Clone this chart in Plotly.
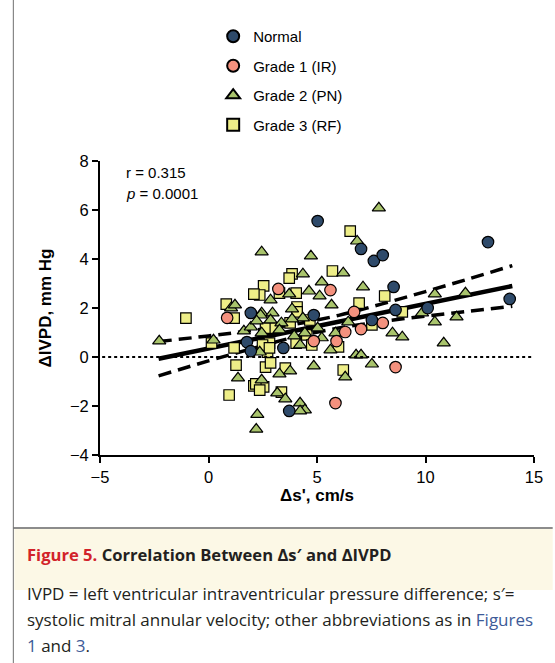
import plotly.graph_objects as go

# ---------------- data ----------------
normal_x = [5.03, 7.03, 7.62, 8.03, 8.53, 12.88, 13.88, 4.85, 3.45, 3.72, 7.53, 8.62, 10.1, 1.95, 1.77, 1.95]
normal_y = [5.55, 4.41, 3.92, 4.16, 2.86, 4.69, 2.37, 1.71, 0.37, -2.2, 1.51, 1.92, 2.0, 1.8, 0.61, 0.24]

g1_x = [3.22, 5.62, 0.86, 6.71, 4.85, 5.9, 6.3, 7.03, 8.03, 8.62, 5.85]
g1_y = [2.78, 2.73, 1.6, 1.84, 0.65, 0.65, 1.02, 1.14, 1.39, -0.41, -1.88]

g2_x = [7.85, 6.85, 2.45, 4.72, 4.35, 6.21, 5.22, 4.63, 3.72, 5.12, 7.12, 2.86, 5.67, 10.43,
        11.84, 11.43, 10.43, 2.45, 2.95, 3.85, 4.35, 3.85, 2.86, 3.36, 2.45, 3.27, 3.95, 4.44,
        5.03, 5.22, 4.22, 5.85, 6.44, 8.48, 8.93, 9.84, 10.84, 5.62, 6.8, 7.03, 7.53, 4.85,
        6.3, 3.27, 3.76, 2.45, 3.17, 3.54, 4.22, 4.44, 4.22, 2.25, 2.2, -2.27, 0.23, 1.04,
        1.22, 1.63, 1.95, 2.4, 2.22, 2.36, 1.36]
g2_y = [6.08, 4.73, 4.29, 4.12, 3.39, 3.43, 3.06, 2.69, 2.57, 2.49, 2.86, 2.33, 2.12, 2.57,
        2.61, 1.63, 1.43, 1.8, 1.8, 1.96, 1.59, 1.55, 1.51, 1.39, 0.98, 1.1, 0.86, 0.98,
        1.18, 0.78, 0.49, 0.98, 1.43, 0.98, 0.82, 1.8, 0.57, 0.29, 0.08, 0.08, -0.29, -0.37,
        -0.82, -0.69, -0.57, -0.94, -1.47, -1.71, -1.88, -2.16, -2.2, -2.35, -2.95, 0.65, 0.69, 2.0,
        2.12, 1.06, 1.22, 1.71, 1.47, 0.2, -0.86]

g3_x = [6.53, 5.71, 3.85, 3.72, 2.54, 3.27, 4.04, 8.12, 6.94, 4.08, 2.36, -1.04, 0.82, 1.18,
        2.09, 0.14, 1.18, 1.27, 0.95, 2.09, 2.54, 2.63, 2.63, 2.72, 2.86, 3.54, 3.36, 4.53,
        4.76, 4.04, 3.08, 8.93, 7.53, 6.21, 5.99, 4.67, 4.08, 3.76, 2.81, 2.49, 2.81, 2.18, 2.36]
g3_y = [5.14, 3.51, 3.39, 3.22, 2.9, 2.61, 2.61, 2.49, 2.2, 2.04, 2.53, 1.59, 2.16, 1.59,
        2.57, 0.57, 0.37, -0.33, -1.55, -1.18, -1.22, 1.18, -0.41, 0.2, -0.24, -0.45, -1.43, 0.9,
        0.49, 0.57, 1.18, 1.84, 1.31, -0.53, 0.41, 1.51, 1.84, 1.39, 0.57, 0.49, 0.37, -1.1, -1.35]

# regression line and 95% confidence band, read at these x positions
fit_x = [-2.3, 0, 2, 4, 6, 8, 10, 12, 14]
fit_y = [-0.07, 0.35, 0.71, 1.08, 1.44, 1.81, 2.17, 2.53, 2.90]
ci_upper = [0.63, 0.86, 1.08, 1.34, 1.70, 2.17, 2.67, 3.19, 3.73]
ci_lower = [-0.77, -0.16, 0.34, 0.82, 1.18, 1.45, 1.67, 1.87, 2.07]

x_ticks = [-5, 0, 5, 10, 15]
y_ticks = [-4, -2, 0, 2, 4, 6, 8]

# ---------------- figure ----------------
W, H = 555, 663
L, R, T, B = 100, 541, 161, 455
FONT = "Liberation Sans, Arial, sans-serif"


def px(xp):
    return (xp - L) / (R - L)


def py(yp):
    return (B - yp) / (B - T)


fig = go.Figure()

fig.add_trace(go.Scatter(x=fit_x, y=ci_upper, mode="lines", line=dict(color="black", width=3.5, dash="13px,7px", shape="spline"),
                         showlegend=False, hoverinfo="skip"))
fig.add_trace(go.Scatter(x=fit_x, y=ci_lower, mode="lines", line=dict(color="black", width=3.5, dash="13px,7px", shape="spline"),
                         showlegend=False, hoverinfo="skip"))
fig.add_trace(go.Scatter(x=fit_x, y=fit_y, mode="lines", line=dict(color="black", width=4.5),
                         showlegend=False, hoverinfo="skip"))

line_m = dict(color="black", width=1.2)
fig.add_trace(go.Scatter(x=g3_x, y=g3_y, mode="markers", name="Grade 3 (RF)", legendgroup="d", legendrank=4,
                         marker=dict(symbol="square", size=10.5, color="#eeee88", line=line_m)))
fig.add_trace(go.Scatter(x=g2_x, y=g2_y, mode="markers", name="Grade 2 (PN)", legendgroup="c", legendrank=3,
                         marker=dict(symbol="triangle-up", size=11.5, color="#a9c46c", line=line_m)))
fig.add_trace(go.Scatter(x=g1_x, y=g1_y, mode="markers", name="Grade 1 (IR)", legendgroup="b", legendrank=2,
                         marker=dict(symbol="circle", size=11.5, color="#f4917e", line=line_m)))
fig.add_trace(go.Scatter(x=normal_x, y=normal_y, mode="markers", name="Normal", legendgroup="a", legendrank=1,
                         marker=dict(symbol="circle", size=11.5, color="#2e4a6a", line=line_m)))

axis_common = dict(showline=True, linecolor="black", linewidth=2, ticks="outside", ticklen=6, tickwidth=2,
                   tickcolor="black", showgrid=False, zeroline=False,
                   tickfont=dict(family=FONT, size=16.5, color="black"))

fig.update_layout(
    width=W, height=H,
    margin=dict(l=L, r=W - R, t=T, b=H - B, pad=0),
    paper_bgcolor="white", plot_bgcolor="white",
    xaxis=dict(range=[-5, 15], tickvals=x_ticks, **axis_common,
               title=dict(text="<b>Δs', cm/s</b>", font=dict(family=FONT, size=17, color="black"), standoff=3)),
    yaxis=dict(range=[-4, 8], tickvals=y_ticks, **axis_common,
               title=dict(text="<b>ΔIVPD, mm Hg</b>", font=dict(family=FONT, size=17, color="black"), standoff=14)),
    legend=dict(x=px(215), y=py(20), xanchor="left", yanchor="top", traceorder="grouped",
                tracegroupgap=7, font=dict(family=FONT, size=15, color="black"),
                bgcolor="rgba(0,0,0,0)", itemsizing="constant"),
    showlegend=True,
)

# dotted zero line
fig.add_shape(type="line", xref="paper", yref="y", x0=0.005, x1=1, y0=0, y1=0,
              line=dict(color="black", width=2, dash="dot"))

# frame lines
fig.add_shape(type="rect", xref="paper", yref="paper", x0=px(13), x1=px(560), y0=py(529), y1=py(590),
              fillcolor="#fcf8e6", line=dict(width=0), layer="below")
fig.add_shape(type="line", xref="paper", yref="paper", x0=px(12), x1=px(12), y0=py(-5), y1=py(670),
              line=dict(color="#888888", width=1.2))
fig.add_shape(type="line", xref="paper", yref="paper", x0=px(12), x1=px(560), y0=py(528), y1=py(528),
              line=dict(color="#666666", width=1.5))

# r / p annotation
fig.add_annotation(xref="paper", yref="paper", x=px(124), y=py(172), xanchor="left", yanchor="middle",
                   text="r = 0.315", showarrow=False, font=dict(family=FONT, size=15, color="black"))
fig.add_annotation(xref="paper", yref="paper", x=px(124), y=py(193), xanchor="left", yanchor="middle",
                   text="<i>p</i> = 0.0001", showarrow=False, font=dict(family=FONT, size=15, color="black"))

# caption
CAP = "Open Sans, Noto Sans, sans-serif"
fig.add_annotation(xref="paper", yref="paper", x=px(24), y=py(554), xanchor="left", yanchor="middle",
                   text="<b><span style='color:#d2232a'>Figure 5.</span> Correlation Between Δs′ and ΔIVPD</b>",
                   showarrow=False, font=dict(family=CAP, size=16.6, color="#231f20"))
cap_lines = [
    "IVPD = left ventricular intraventricular pressure difference; s′=",
    "systolic mitral annular velocity; other abbreviations as in <span style='color:#3d5a98'>Figures</span>",
    "<span style='color:#3d5a98'>1</span> and <span style='color:#3d5a98'>3</span>.",
]
for i, t in enumerate(cap_lines):
    fig.add_annotation(xref="paper", yref="paper", x=px(24), y=py(593 + 26 * i), xanchor="left", yanchor="middle",
                       text=t, showarrow=False, font=dict(family=CAP, size=17, color="#231f20"))

fig.write_html("out.html", config={"displayModeBar": False},
               post_script="document.body.style.margin='0';document.body.style.overflow='hidden';")
